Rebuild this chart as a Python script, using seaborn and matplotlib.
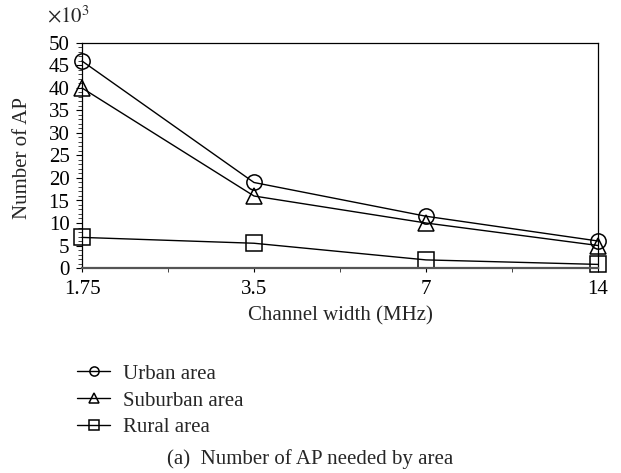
import numpy as np
import pandas as pd
import matplotlib
matplotlib.use('Agg')
import matplotlib.pyplot as plt
import seaborn as sns
from matplotlib.ticker import MultipleLocator, FixedLocator, NullFormatter

channel_width = [1.75, 3.5, 7, 14]
x_tick_labels = ['1.75', '3.5', '7', '14']
urban = [46, 19, 11.5, 6]
suburban = [40, 16, 10, 5]
rural = [6.8, 5.5, 1.8, 0.8]
series_names = ['Urban area', 'Suburban area', 'Rural area']
series_markers = ['o', '^', 's']

df = pd.DataFrame({
    'width': channel_width * 3,
    'aps': urban + suburban + rural,
    'area': np.repeat(series_names, len(channel_width)),
})

sns.set_style('white')
plt.rcParams['font.family'] = ['Liberation Serif', 'DejaVu Serif']
plt.rcParams['mathtext.fontset'] = 'stix'

fig = plt.figure(figsize=(6.21, 4.73), dpi=100)
# plot box: x 82..598 px, y 43..268 px
ax = fig.add_axes([82 / 621, 205 / 473, 516 / 621, 225 / 473])

for name, mk in zip(series_names, series_markers):
    sub = df[df['area'] == name]
    sns.lineplot(data=sub, x='width', y='aps', ax=ax, color='black', linewidth=1.0,
                 marker=mk, markersize=11, markerfacecolor='none',
                 markeredgecolor='black', markeredgewidth=1.1, label=name,
                 clip_on=False)

ax.set_xscale('log', base=2)
ax.set_xlim(1.75, 14)
ax.xaxis.set_major_locator(FixedLocator(channel_width))
ax.set_xticklabels(x_tick_labels)
mids = [np.sqrt(a * b) for a, b in zip(channel_width[:-1], channel_width[1:])]
ax.xaxis.set_minor_locator(FixedLocator(mids))
ax.xaxis.set_minor_formatter(NullFormatter())

ax.set_ylim(0, 50)
ax.yaxis.set_major_locator(MultipleLocator(5))
ax.yaxis.set_minor_locator(MultipleLocator(1))

ax.tick_params(axis='both', which='major', direction='out', length=4, width=0.8,
               colors='black', labelsize=15)
ax.tick_params(axis='x', which='major', pad=6)
ax.tick_params(axis='y', which='major', pad=5)
ax.tick_params(axis='both', which='minor', direction='out', length=3, width=0.6)
ax.tick_params(axis='x', which='both', bottom=True, length=3)
ax.tick_params(axis='y', which='both', left=True)

for s in ax.spines.values():
    s.set_color('black')
    s.set_linewidth(0.9)
ax.spines['bottom'].set_linewidth(1.6)
ax.spines['bottom'].set_color('#555555')

ax.set_xlabel('Channel width (MHz)', fontsize=15, labelpad=5)
ax.set_ylabel('Number of AP', fontsize=15)
ax.yaxis.set_label_coords(-50 / 516, 0.49)
ax.text(-35 / 516, 1.09, r'$\times10^3$', transform=ax.transAxes, fontsize=15,
        ha='left', va='baseline')

leg = ax.legend(loc='upper left', bbox_to_anchor=(-0.026, -0.39), frameon=False,
                fontsize=15, handlelength=1.6, handletextpad=0.6, labelspacing=0.35,
                borderaxespad=0, markerscale=0.6)

fig.text(0.5, 0.03, '(a)  Number of AP needed by area', ha='center',
         va='center', fontsize=15)

fig.savefig('out.png', dpi=100)
